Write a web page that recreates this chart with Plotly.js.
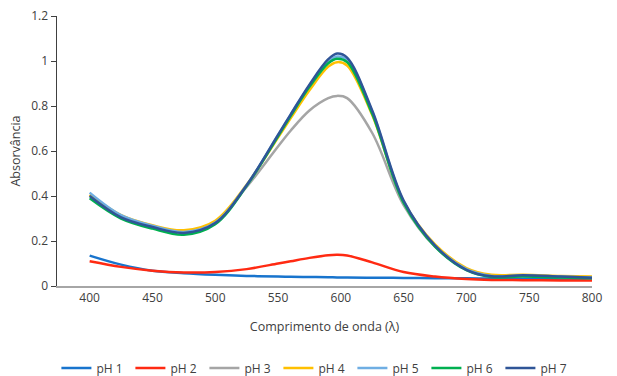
<!DOCTYPE html>
<html>
<head>
<meta charset="utf-8">
<script src="https://cdn.plot.ly/plotly-3.0.1.min.js"></script>
<style>html,body{margin:0;padding:0;background:#fff;}#chart{width:617px;height:376px;}</style>
</head>
<body>
<div id="chart"></div>
<script>
const wavelength = [400, 425, 450, 475, 500, 525, 550, 560, 575, 590, 597, 605, 625, 650, 675, 700, 720, 745, 775, 800];

const pH1 = [0.135, 0.095, 0.068, 0.057, 0.050, 0.045, 0.042, 0.041, 0.040, 0.039, 0.038, 0.038, 0.037, 0.036, 0.035, 0.034, 0.033, 0.032, 0.031, 0.030];
const pH2 = [0.110, 0.085, 0.068, 0.060, 0.062, 0.075, 0.100, 0.110, 0.125, 0.137, 0.139, 0.136, 0.105, 0.062, 0.042, 0.031, 0.027, 0.026, 0.025, 0.024];
const pH3 = [0.405, 0.310, 0.265, 0.240, 0.285, 0.440, 0.620, 0.690, 0.780, 0.835, 0.845, 0.835, 0.680, 0.360, 0.175, 0.075, 0.045, 0.045, 0.040, 0.036];
const pH4 = [0.405, 0.315, 0.270, 0.248, 0.290, 0.450, 0.660, 0.745, 0.870, 0.975, 0.995, 0.980, 0.760, 0.375, 0.185, 0.080, 0.050, 0.050, 0.045, 0.042];
const pH5 = [0.415, 0.315, 0.268, 0.240, 0.282, 0.448, 0.670, 0.760, 0.890, 0.995, 1.020, 1.005, 0.775, 0.375, 0.180, 0.075, 0.045, 0.047, 0.042, 0.038];
const pH6 = [0.390, 0.300, 0.255, 0.228, 0.275, 0.445, 0.665, 0.755, 0.885, 0.990, 1.010, 0.995, 0.765, 0.370, 0.175, 0.070, 0.040, 0.042, 0.038, 0.034];
const pH7 = [0.400, 0.305, 0.262, 0.236, 0.280, 0.448, 0.672, 0.762, 0.895, 1.008, 1.033, 1.015, 0.780, 0.380, 0.180, 0.072, 0.043, 0.048, 0.042, 0.037];

const names = ['pH 1', 'pH 2', 'pH 3', 'pH 4', 'pH 5', 'pH 6', 'pH 7'];
const series = [pH1, pH2, pH3, pH4, pH5, pH6, pH7];
const colors = ['#1874CD', '#FF2A12', '#A5A5A5', '#FFC000', '#6FAEE3', '#00B050', '#2F5597'];

const xTicks = [400, 450, 500, 550, 600, 650, 700, 750, 800];

const traces = series.map((s, i) => ({
  x: wavelength,
  y: s,
  name: names[i],
  type: 'scatter',
  mode: 'lines',
  line: {color: colors[i], width: 2.5, shape: 'spline', smoothing: 1},
  hoverinfo: 'skip'
}));

const font = {family: 'Open Sans, Lato, sans-serif', size: 12, color: '#404040'};

const layout = {
  width: 617,
  height: 376,
  margin: {l: 57, r: 25, t: 16, b: 90},
  paper_bgcolor: '#fff',
  plot_bgcolor: '#fff',
  font: font,
  showlegend: true,
  legend: {
    orientation: 'h',
    xref: 'paper',
    x: 0.483, xanchor: 'center',
    yref: 'container',
    y: 0.021, yanchor: 'middle',
    font: {family: 'Open Sans, Lato, sans-serif', size: 12, color: '#404040'},
    itemwidth: 30,
    entrywidth: 29,
    entrywidthmode: 'pixels',
    traceorder: 'normal'
  },
  xaxis: {
    range: [374, 800],
    tickvals: xTicks,
    ticktext: xTicks.map(String),
    showgrid: false,
    zeroline: false,
    showline: true,
    linecolor: '#A6A6A6',
    linewidth: 1.5,
    ticks: '',
    tickfont: font,
    automargin: false,
    title: {text: 'Comprimento de onda (λ)', font: {family: 'Open Sans, Lato, sans-serif', size: 12.5, color: '#404040'}, standoff: 17}
  },
  yaxis: {
    range: [0, 1.2],
    dtick: 0.2,
    tick0: 0,
    showgrid: false,
    zeroline: false,
    showline: true,
    linecolor: '#404040',
    linewidth: 1.5,
    ticks: 'outside',
    ticklen: 5,
    tickcolor: '#404040',
    tickfont: font,
    automargin: false,
    title: {text: 'Absorvância', font: {family: 'Open Sans, Lato, sans-serif', size: 12.5, color: '#404040'}, standoff: 8}
  }
};

Plotly.newPlot('chart', traces, layout, {displayModeBar: false, staticPlot: true});
</script>
</body>
</html>
